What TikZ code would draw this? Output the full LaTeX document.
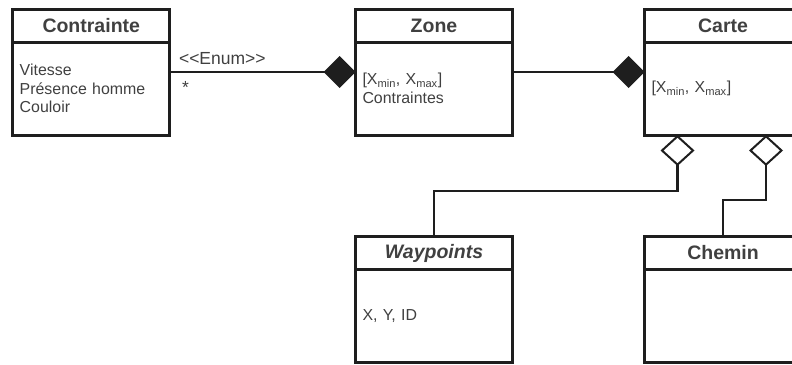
\documentclass[tikz,border=0pt]{standalone}
\usepackage{fontspec}
\setmainfont{Liberation Sans}
\usepackage{tikz}
\usetikzlibrary{arrows.meta}
\definecolor{trait}{HTML}{1E1E1E}
\definecolor{texte}{HTML}{404040}

\begin{document}
\begin{tikzpicture}[x=1pt,y=-1pt,
		titre/.style={draw=trait,line width=3pt,outer sep=0pt,inner sep=0pt,minimum width=157pt,minimum height=33pt,text=texte,font=\fontsize{19.5}{23}\selectfont\bfseries},
		corps/.style={draw=trait,line width=3pt,outer sep=0pt,inner xsep=7pt,inner ysep=0pt,minimum height=93pt,text width=143pt,align=left,anchor=north,text=texte,font=\fontsize{15.9}{18.5}\selectfont},
		lien/.style={draw=trait,line width=2.6pt},
		compo/.style={lien,-{Diamond[length=32pt,width=32pt]}},
		agreg/.style={lien,-{Diamond[open,fill=white,length=31pt,width=34pt,line width=2pt]}},
		etiq/.style={text=texte,inner sep=0pt,font=\fontsize{17.5}{20}\selectfont}]
			\useasboundingbox (0,0) rectangle (792,364);
			\clip (0,0) rectangle (792,364);
			% classes
			\node[titre] (contrainteT) at (91.25,25.5) {Contrainte};
			\node[corps] (contrainteC) at (contrainteT.south) {Vitesse\\Présence homme\\Couloir};
			\node[titre] (zoneT) at (434,25.5) {Zone};
			\node[corps] (zoneC) at (zoneT.south) {[X\textsubscript{min}, X\textsubscript{max}]\\Contraintes};
			\node[titre] (carteT) at (723,25.5) {Carte};
			\node[corps] (carteC) at (carteT.south) {[X\textsubscript{min}, X\textsubscript{max}]};
			\node[titre,font=\fontsize{19.5}{23}\selectfont\bfseries\itshape] (waypointsT) at (434,253) {Waypoints};
			\node[corps] (waypointsC) at (waypointsT.south) {X, Y, ID};
			\node[titre] (cheminT) at (723,253) {Chemin};
			\node[corps] (cheminC) at (cheminT.south) {};
			% links
			\draw[compo] ([yshift=16.5pt]contrainteC.east) -- ([yshift=16.5pt]zoneC.west)
				node[etiq,pos=0,anchor=south west,xshift=8pt,yshift=6pt] (enum) {<\kern0pt<Enum>\kern0pt>}
				node[etiq,pos=0,anchor=north west,xshift=11pt,yshift=-8pt] (mult) {*};
			\draw[compo] ([yshift=16.5pt]zoneC.east) -- ([yshift=16.5pt]carteC.west);
			\draw[agreg] (waypointsT.north) -- ++(0,-45.5) -| ([xshift=-45.5pt]carteC.south);
			\draw[agreg] (cheminT.north) -- ++(0,-36.5) -| ([xshift=43pt]carteC.south);
		\end{tikzpicture}
\end{document}
